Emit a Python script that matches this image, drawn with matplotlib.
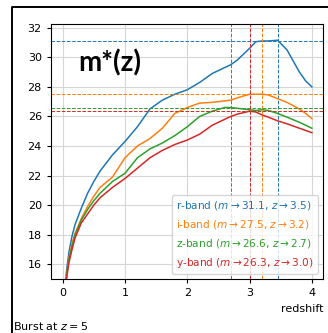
import matplotlib
matplotlib.use("Agg")
import matplotlib.pyplot as plt
from matplotlib.lines import Line2D

# redshift grid and m*(z) curves
z = [0.03, 0.06, 0.1, 0.15, 0.2, 0.3, 0.4, 0.5, 0.6, 0.8, 1.0, 1.2, 1.4, 1.6, 1.8,
     2.0, 2.2, 2.4, 2.6, 2.7, 2.8, 3.0, 3.1, 3.2, 3.3, 3.45, 3.6, 3.8, 3.9, 4.0]
m_r = [13.0, 15.5, 16.8, 17.9, 18.7, 19.8, 20.8, 21.6, 22.3, 23.4, 24.3, 25.3, 26.5, 27.1, 27.5,
       27.8, 28.3, 28.9, 29.3, 29.5, 29.8, 30.6, 31.05, 31.1, 31.1, 31.15, 30.5, 29.0, 28.4, 28.0]
m_i = [12.5, 15.2, 16.4, 17.4, 18.1, 19.1, 19.9, 20.6, 21.2, 21.9, 23.2, 24.0, 24.5, 25.2, 26.2,
       26.6, 26.9, 26.95, 27.05, 27.1, 27.25, 27.5, 27.5, 27.5, 27.45, 27.2, 26.95, 26.5, 26.2, 25.85]
m_z = [12.3, 15.1, 16.3, 17.2, 18.0, 19.0, 19.7, 20.3, 20.8, 21.6, 22.15, 23.2, 23.8, 24.2, 24.7,
       25.3, 26.0, 26.35, 26.6, 26.6, 26.55, 26.45, 26.4, 26.45, 26.4, 26.2, 25.95, 25.6, 25.4, 25.2]
m_y = [12.0, 15.0, 16.1, 17.0, 17.8, 18.8, 19.4, 20.0, 20.5, 21.2, 21.8, 22.5, 23.2, 23.7, 24.1,
       24.4, 24.8, 25.4, 25.8, 26.0, 26.15, 26.35, 26.3, 26.1, 25.95, 25.7, 25.5, 25.2, 25.05, 24.9]

bands = ["r", "i", "z", "y"]
curves = [m_r, m_i, m_z, m_y]
m_max = [31.12, 27.49, 26.6, 26.36]
z_max = [3.45, 3.2, 2.7, 3.0]
m_lab = ["31.1", "27.5", "26.6", "26.3"]
z_lab = ["3.5", "3.2", "2.7", "3.0"]
colors = ["tab:blue", "tab:orange", "tab:green", "tab:red"]

fig = plt.figure(figsize=(3.28, 3.33), dpi=100)
ax = fig.add_axes([0.155, 0.162, 0.83, 0.766])

for b, m, c, mm, zm, ml, zl in zip(bands, curves, colors, m_max, z_max, m_lab, z_lab):
    ax.plot(z, m, color=c, lw=1.1,
            label=r"%s-band ($m\rightarrow%s$, $z\rightarrow%s$)" % (b, ml, zl))
    ax.axhline(mm, color=c, ls="--", lw=0.7)
    ax.axvline(zm, color=c, ls="--", lw=0.7)

ax.set_xlim(-0.19, 4.18)
ax.set_ylim(15, 32.25)
ax.set_xticks([0, 1, 2, 3, 4])
ax.set_yticks(range(16, 33, 2))
ax.tick_params(labelsize=8, length=3)
ax.grid(True, color="#d6d6d6", lw=0.8)
ax.set_axisbelow(True)
ax.set_xlabel("redshift", loc="right", fontsize=8)

ax.text(0.25, 29.6, "m*(z)", fontsize=20, fontweight="bold", family="Lato",
        ha="left", va="center")

ax.legend(loc="lower right", fontsize=7.6, handlelength=0, handletextpad=0,
          labelcolor="linecolor", labelspacing=0.55, borderaxespad=0.5,
          framealpha=0.8)

fig.text(13 / 328, 3 / 333, r"Burst at $z=5$", fontsize=8, va="baseline", ha="left")

# the black frame round the figure
fig.add_artist(Line2D([11.5 / 328, 11.5 / 328, 1.0], [0.0, 1 - 7 / 333, 1 - 7 / 333],
                      color="black", lw=1.4))

fig.savefig("out.png", dpi=100)
